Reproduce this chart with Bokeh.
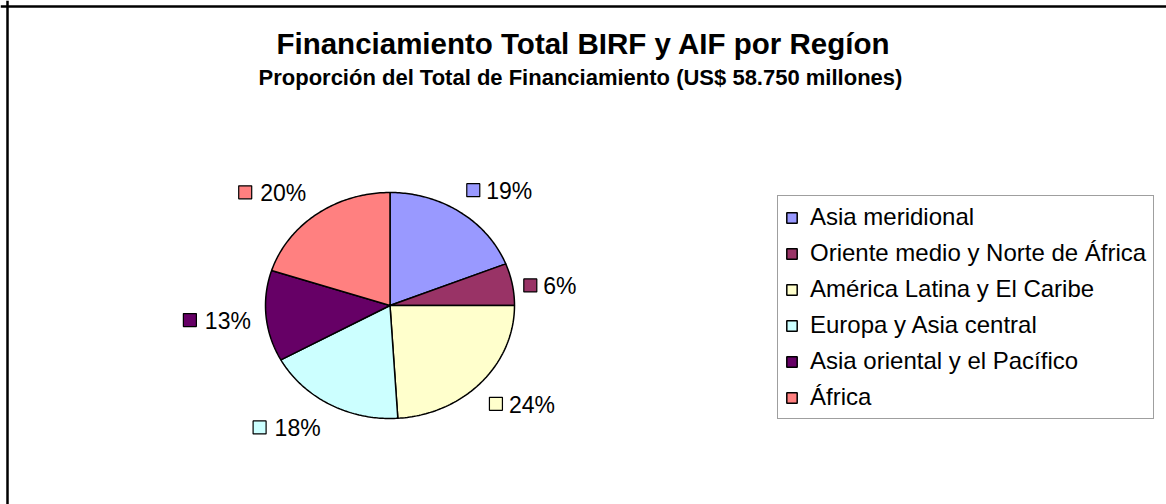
import numpy as np
from bokeh.plotting import figure
from bokeh.models import Range1d, Span, Legend, LegendItem
from bokeh.core.properties import value
from bokeh.embed import file_html
from bokeh.resources import INLINE

# ---- data ----
regions = ["Asia meridional", "Oriente medio y Norte de África", "América Latina y El Caribe",
           "Europa y Asia central", "Asia oriental y el Pacífico", "África"]
shares = [19, 6, 24, 18, 13, 20]
colors = ["#9999FF", "#993366", "#FFFFCC", "#CCFFFF", "#660066", "#FF8080"]
title_text = "Financiamiento Total BIRF y AIF por Regíon"
subtitle_text = "Proporción del Total de Financiamiento  (US$ 58.750 millones)"

# ---- layout (screen px, origin top-left of canvas) ----
W, H = 1166, 504
CX, CY = 389.5, 305.0
RX, RY = 124.5, 113.0
FONT = "Liberation Sans"

p = figure(width=W, height=H, x_range=Range1d(0, W), y_range=Range1d(H, 0),
           output_backend="svg", toolbar_location=None, min_border=0,
           x_axis_location=None, y_axis_location=None)
p.grid.visible = False
p.outline_line_color = None
p.background_fill_color = "white"

# chart-area frame (top and left edges visible in reference)
p.add_layout(Span(location=7, dimension="height", line_color="black", line_width=2.5))
p.add_layout(Span(location=6, dimension="width", line_color="black", line_width=2.5))

total = float(sum(shares))
fr = np.cumsum([0] + shares) / total
items = []
fs = 23
lx, ly, ltxt, rx_, ry_, rtxt, sq_x, sq_y = [], [], [], [], [], [], [], []
for i, (name, s, c) in enumerate(zip(regions, shares, colors)):
    a0, a1 = 2 * np.pi * fr[i], 2 * np.pi * fr[i + 1]
    t = np.linspace(a0, a1, 80)
    xs = np.concatenate([[CX], CX + RX * np.sin(t)])
    ys = np.concatenate([[CY], CY - RY * np.cos(t)])
    r = p.patch(xs, ys, fill_color=c, line_color="black", line_width=1.5)
    items.append(LegendItem(label=name, renderers=[r]))

    # data label placed just outside the slice's mid-angle
    m = (a0 + a1) / 2
    k = 1.09
    ax = CX + k * RX * np.sin(m)
    ay = CY - k * RY * np.cos(m)
    txt = f"{s}%"
    tw = fs * (0.556 * (len(txt) - 1) + 0.889)
    sn, cs = np.sin(m), np.cos(m)
    if cs > 0.3:
        yc = ay - 13.5
    elif cs < -0.3:
        yc = ay + 14
    else:
        yc = ay + 3
    if sn < -0.3:
        rx_.append(ax - 4); ry_.append(yc + 1); rtxt.append(txt)
        sq_x.append(ax - 4 - tw - 15)
    else:
        lx.append(ax + 20); ly.append(yc + 1); ltxt.append(txt)
        sq_x.append(ax + 7)
    sq_y.append(yc)

p.scatter(sq_x, sq_y, marker="square", size=13, fill_color=colors,
          line_color="black", line_width=1.2)
p.text(lx, ly, text=ltxt, text_font=value(FONT), text_font_size=f"{fs}px",
       text_align="left", text_baseline="middle", text_color="black")
p.text(rx_, ry_, text=rtxt, text_font=value(FONT), text_font_size=f"{fs}px",
       text_align="right", text_baseline="middle", text_color="black")

# titles
p.text([583], [43], text=[title_text], text_font=value(FONT), text_font_size="29.5px",
       text_font_style="bold", text_align="center", text_baseline="middle", text_color="black")
p.text([583], [77], text=[subtitle_text], text_font=value(FONT), text_font_size="22px",
       text_font_style="bold", text_align="center", text_baseline="middle", text_color="black")

legend = Legend(items=items, location=(777, 85), orientation="vertical")
legend.label_text_font = FONT
legend.label_text_font_size = "24px"
legend.label_text_color = "black"
legend.glyph_width = 13
legend.glyph_height = 13
legend.label_standoff = 12
legend.padding = 7
legend.spacing = 8
legend.margin = 0
legend.border_line_color = "#404040"
legend.border_line_width = 1
legend.background_fill_alpha = 1.0
p.add_layout(legend, "center")

open("out.html", "w").write(file_html(p, INLINE))
